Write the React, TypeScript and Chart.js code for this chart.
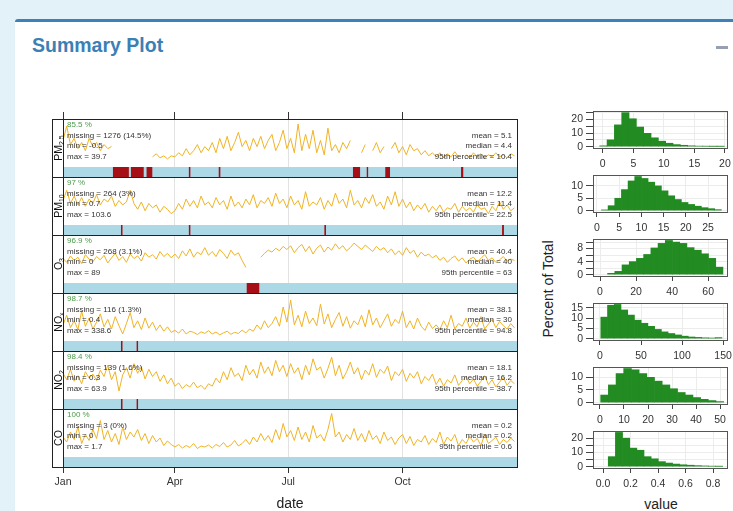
import React, { useEffect, useRef } from "react";
import { Chart, registerables } from "chart.js";

Chart.register(...registerables);

const FONT = "'Liberation Sans', Arial, Helvetica, sans-serif";
Chart.defaults.font.family = FONT;

// ---------------- data ----------------
const sampleStepDays = 3;
const sampleDays = Array.from({ length: 122 }, (_, i) => i * sampleStepDays);
const yearDays = 365;
const monthTickDays = [0, 90, 181, 273];
const monthTickLabels = ["Jan", "Apr", "Jul", "Oct"];

const pollutantNames = [["PM", "2.5"], ["PM", "10"], ["O", "3"], ["NO", "x"], ["NO", "2"], ["CO", ""]];

// daily means, sampled every 3 days (null = missing)
const pm25Daily = [
  11, 18, 9, 12, 7, 10, 6, 12, 8, 10,
  6, 9, 7, 8, null, null, null, null, null, null,
  null, null, null, null, 3, 4.5, 2.5, 3.5, 2, 3.5,
  3, 5, 3.5, 7, 4, 6, 9, 5, 8, 6,
  10, 5, 12, 7, 13, 6, 10, 15, 8, 11,
  6, 12, 8, 13, 7, 11, 14, 6, 10, 16,
  7, 12, 5, 19, 6, 14, 7, 16, 5, 11,
  4, 17, 6, 9, 5, 10, 7, 11, null, null,
  5, 9, null, 6, 10, 5, 8, null, 7, 10,
  5, 8, 4, 9, 6, 7, 4, 6, 3.5, 5,
  3, 5, 2.5, 4.5, 3, 5.5, 3, null, 4, 2.5,
  5, 3, 4.5, 2.5, 4, 3, 5, 3, 4, 2.5, 4.5, 3.5,
];
const pm10Daily = [
  15, 22, 13, 18, 12, 17, 11, 16, 13, 19,
  12, 16, 14, 18, 11, 15, 12, 14, 22, 13,
  9, 14, 8, 13, 10, 12, 7, 11, 9, 6,
  8, 13, 9, 16, 11, 15, 10, 18, 12, 14,
  10, 17, 12, 15, 9, 18, 11, 14, 10, 16,
  12, 19, 10, 15, 13, 17, 11, 20, 13, 16,
  10, 18, 12, 15, 9, 21, 11, 14, 12, 17,
  9, 15, 11, 20, 13, 16, 10, 22, 12, 15,
  10, 17, 13, 19, 11, 14, 9, 18, 12, 21,
  11, 16, 10, 14, 8, 12, 9, 13, 7, 11,
  8, 12, 7, 10, 9, 13, 7, 11, 8, 10,
  7, 12, 9, 10, 6, 11, 8, 14, 9, 12, 8, 10,
];
const o3Daily = [
  36, 30, 40, 33, 38, 28, 42, 35, 31, 39,
  34, 41, 29, 37, 44, 33, 39, 30, 43, 36,
  40, 32, 45, 38, 42, 35, 47, 39, 44, 37,
  43, 36, 48, 40, 51, 38, 46, 42, 53, 41,
  47, 39, 50, 44, 36, 49, 41, 45, 33, 22,
  null, null, null, 38, 44, 49, 46, 52, 48, 55,
  50, 56, 45, 53, 58, 47, 55, 43, 52, 57,
  46, 54, 49, 59, 51, 56, 48, 53, 60, 55,
  50, 57, 52, 47, 55, 49, 53, 45, 51, 42,
  48, 41, 53, 44, 49, 38, 46, 40, 43, 37,
  41, 33, 38, 30, 36, 40, 32, 37, 29, 35,
  38, 31, 36, 42, 33, 37, 30, 34, 39, 32, 35, 33,
];
const noxDaily = [
  45, 80, 35, 60, 28, 95, 40, 70, 30, 55,
  85, 38, 65, 30, 75, 42, 12, 50, 90, 35,
  60, 28, 70, 33, 55, 25, 45, 22, 38, 18,
  25, 15, 30, 12, 22, 18, 10, 20, 14, 24,
  12, 19, 9, 16, 22, 11, 18, 14, 26, 16,
  30, 22, 45, 28, 60, 35, 50, 75, 40, 110,
  55, 135, 45, 80, 38, 95, 50, 70, 42, 120,
  48, 85, 35, 65, 90, 40, 75, 33, 60, 45,
  80, 38, 100, 45, 70, 35, 60, 85, 40, 65,
  50, 95, 35, 60, 30, 70, 40, 25, 55, 32,
  45, 28, 60, 35, 80, 30, 50, 40, 70, 33,
  55, 38, 75, 30, 48, 65, 35, 58, 42, 30, 50, 34,
];
const no2Daily = [
  28, 20, 33, 18, 25, 15, 30, 22, 27, 19,
  32, 24, 38, 20, 30, 6, 26, 35, 22, 40,
  28, 36, 21, 33, 24, 30, 18, 26, 15, 22,
  12, 16, 9, 14, 11, 17, 10, 13, 8, 15,
  12, 22, 16, 30, 20, 35, 24, 28, 19, 38,
  26, 33, 22, 42, 28, 36, 25, 44, 30, 38,
  24, 40, 28, 35, 20, 38, 26, 46, 32, 36,
  22, 34, 48, 25, 38, 21, 30, 42, 27, 35,
  20, 32, 26, 40, 23, 33, 28, 37, 19, 30,
  25, 33, 18, 28, 22, 30, 15, 24, 19, 27,
  14, 22, 12, 20, 16, 26, 13, 19, 24, 15,
  21, 12, 18, 25, 14, 20, 11, 17, 23, 13, 19, 15,
];
const coDaily = [
  0.35, 0.25, 0.45, 0.3, 0.55, 0.22, 0.4, 0.28, 0.5, 0.32,
  0.68, 0.3, 0.48, 0.25, 0.42, 0.2, 0.55, 0.3, 0.45, 0.35,
  0.5, 0.28, 0.42, 0.22, 0.38, 0.25, 0.33, 0.18, 0.27, 0.2,
  0.15, 0.2, 0.13, 0.18, 0.14, 0.22, 0.12, 0.17, 0.15, 0.19,
  0.13, 0.2, 0.16, 0.24, 0.15, 0.19, 0.28, 0.17, 0.22, 0.3,
  0.2, 0.35, 0.25, 0.42, 0.28, 0.38, 0.24, 0.5, 0.3, 0.62,
  0.35, 0.48, 0.28, 0.55, 0.3, 0.45, 0.25, 0.58, 0.33, 0.4,
  0.27, 0.5, 0.82, 0.35, 0.45, 0.25, 0.4, 0.3, 0.52, 0.28,
  0.42, 0.25, 0.48, 0.3, 0.38, 0.22, 0.45, 0.28, 0.35, 0.2,
  0.33, 0.4, 0.22, 0.36, 0.18, 0.3, 0.25, 0.38, 0.2, 0.32,
  0.24, 0.45, 0.2, 0.35, 0.27, 0.4, 0.18, 0.3, 0.22, 0.36,
  0.25, 0.32, 0.18, 0.4, 0.22, 0.28, 0.35, 0.2, 0.3, 0.24, 0.33, 0.26,
];

// missing-data periods (day of year, start/end)
const pm25Missing = [[40, 53], [54.5, 65], [67, 72], [101, 102.6], [125, 126.7], [233, 239], [244, 245.5], [259, 263], [320, 322]];
const pm10Missing = [[46.5, 48], [101, 102.6], [210, 211.5], [353, 354.5]];
const o3Missing = [[147.5, 158]];
const noxMissing = [[46.5, 48], [59, 60.5]];
const no2Missing = [[46.5, 48], [59, 60.5]];
const coMissing: number[][] = [];

const captureText = ["85.5 %", "97 %", "96.9 %", "98.7 %", "98.4 %", "100 %"];
const missingText = ["missing = 1276 (14.5%)", "missing = 264 (3%)", "missing = 268 (3.1%)", "missing = 116 (1.3%)", "missing = 139 (1.6%)", "missing = 3 (0%)"];
const minText = ["min = -0.5", "min = 0.7", "min = 0", "min = 0.4", "min = 0.3", "min = 0"];
const maxText = ["max = 39.7", "max = 103.6", "max = 89", "max = 338.6", "max = 63.9", "max = 1.7"];
const meanText = ["mean = 5.1", "mean = 12.2", "mean = 40.4", "mean = 38.1", "mean = 18.1", "mean = 0.2"];
const medianText = ["median = 4.4", "median = 11.4", "median = 40", "median = 30", "median = 16.2", "median = 0.2"];
const p95Text = ["95th percentile = 10.4", "95th percentile = 22.5", "95th percentile = 63", "95th percentile = 94.8", "95th percentile = 38.7", "95th percentile = 0.6"];

// histogram bins (centres) and percent of total
const pm25Bins = [0.1, 1.3, 2.5, 3.7, 4.9, 6.1, 7.3, 8.5, 9.7, 10.9, 12.1, 13.3, 14.5, 15.7, 16.9, 18.1, 19.3];
const pm25Pct = [0.6, 5, 16, 25, 20.5, 14.4, 9.8, 6.5, 4, 2.5, 1.5, 1, 0.6, 0.4, 0.3, 0.2, 0.2];
const pm10Bins = [1.75, 3.25, 4.75, 6.25, 7.75, 9.25, 10.75, 12.25, 13.75, 15.25, 16.75, 18.25, 19.75, 21.25, 22.75, 24.25, 25.75, 27.25];
const pm10Pct = [0.3, 2, 5, 8.5, 12, 13.8, 13, 11.5, 10, 8, 6, 4.5, 3.3, 2.5, 1.8, 1.2, 0.8, 0.4];
const o3Bins = [6.2, 10.2, 14.2, 18.2, 22.2, 26.2, 30.2, 34.2, 38.2, 42.2, 46.2, 50.2, 54.2, 58.2, 62.2, 66.2];
const o3Pct = [0.4, 1, 3, 4, 5, 6.2, 8.2, 9.6, 10.5, 10, 9.6, 8.3, 7.5, 6.4, 5, 2.3];
const noxBins = [5.1, 13.3, 21.5, 29.7, 37.9, 46.1, 54.3, 62.5, 70.7, 78.9, 87.1, 95.3, 103.5, 111.7, 119.9, 128.1, 136.3, 144.5];
const noxPct = [10.5, 16.3, 16.7, 14, 11.5, 9, 7.5, 6, 4.5, 3.3, 2.5, 1.8, 1.2, 0.8, 0.6, 0.4, 0.3, 0.5];
const no2Bins = [1.9, 5.1, 8.3, 11.5, 14.7, 17.9, 21.1, 24.3, 27.5, 30.7, 33.9, 37.1, 40.3, 43.5, 46.7, 49.9];
const no2Pct = [3, 7, 11.5, 13.5, 13, 11.5, 10, 8.5, 7, 5.5, 4, 3, 2, 1.3, 0.8, 0.4];
const coBins = [0.064, 0.116, 0.168, 0.22, 0.272, 0.324, 0.376, 0.428, 0.48, 0.532, 0.584, 0.636, 0.688, 0.74, 0.792, 0.844];
const coPct = [7, 24, 20, 13, 11.5, 7, 5.5, 3.5, 2.5, 1.8, 1.3, 1, 0.7, 0.5, 0.3, 0.2];

// histogram axis ticks
const pm25XTicks = [0, 5, 10, 15, 20];
const pm10XTicks = [0, 5, 10, 15, 20, 25];
const o3XTicks = [0, 20, 40, 60];
const noxXTicks = [0, 50, 100, 150];
const no2XTicks = [0, 10, 20, 30, 40, 50];
const coXTicks = [0, 0.2, 0.4, 0.6, 0.8];
const pm25YTicks = [0, 5, 10, 15, 20, 25];
const pm10YTicks = [0, 5, 10];
const o3YTicks = [0, 2, 4, 6, 8, 10];
const noxYTicks = [0, 5, 10, 15];
const no2YTicks = [0, 5, 10];
const coYTicks = [0, 5, 10, 15, 20];
const pm25YLabels = [0, 10, 20];
const pm10YLabels = [0, 5, 10];
const o3YLabels = [0, 4, 8];
const noxYLabels = [0, 5, 10, 15];
const no2YLabels = [0, 5, 10];
const coYLabels = [0, 10, 20];

// ---------------- layout / style ----------------
const seriesValues = [pm25Daily, pm10Daily, o3Daily, noxDaily, no2Daily, coDaily];
const missingSpans = [pm25Missing, pm10Missing, o3Missing, noxMissing, no2Missing, coMissing];
// axis span: value near panel top / near top of data strip
const panelSpan = [[0, 20], [1, 29], [4, 68], [1, 150], [1, 52], [0.03, 0.85]];

const hist = [
  { bins: pm25Bins, pct: pm25Pct, xTicks: pm25XTicks, xr: [-1.6, 20.5], yTicks: pm25YTicks, yLabels: pm25YLabels, yr: [-1, 26.2] },
  { bins: pm10Bins, pct: pm10Pct, xTicks: pm10XTicks, xr: [-0.9, 29.5], yTicks: pm10YTicks, yLabels: pm10YLabels, yr: [-0.55, 14.4] },
  { bins: o3Bins, pct: o3Pct, xTicks: o3XTicks, xr: [-3.9, 71], yTicks: o3YTicks, yLabels: o3YLabels, yr: [-0.42, 10.95] },
  { bins: noxBins, pct: noxPct, xTicks: noxXTicks, xr: [-8.5, 156], yTicks: noxYTicks, yLabels: noxYLabels, yr: [-0.67, 17.4] },
  { bins: no2Bins, pct: no2Pct, xTicks: no2XTicks, xr: [-2.9, 53.3], yTicks: no2YTicks, yLabels: no2YLabels, yr: [-0.55, 14.1] },
  { bins: coBins, pct: coPct, xTicks: coXTicks, xr: [-0.073, 0.909], yTicks: coYTicks, yLabels: coYLabels, yr: [-0.96, 25] },
];

const LINE = "#F0B324";
const STRIP = "#ADD8E6";
const MISS = "#A50F15";
const GREEN = "#228B22";

const PANEL_TOP = 119;
const PANEL_H = 58;
const PLOT_L = 63;
const PLOT_R = 517;
const FRAME_L = 52;
const HIST_TOP0 = 111;
const HIST_STEP = 64;
const HIST_H = 37;
const HIST_L = 593;
const HIST_R = 728;

function SeriesPanel({ idx }: { idx: number }) {
  const ref = useRef<HTMLCanvasElement>(null);
  const top = PANEL_TOP + idx * PANEL_H + 1;
  const w = PLOT_R - PLOT_L;
  const h = PANEL_H - 1;
  useEffect(() => {
    const [lo, hi] = panelSpan[idx];
    const ppu = 41 / (hi - lo);
    const yMax = hi + 2 / ppu;
    const yMin = lo - 14 / ppu;
    const stripTop = yMin + 10 / ppu;
    const values = seriesValues[idx];
    const datasets: any[] = [
      {
        data: sampleDays.map((d, i) => ({ x: d, y: values[i] })),
        borderColor: LINE,
        borderWidth: 1,
        pointRadius: 0,
        spanGaps: false,
        fill: false,
        order: 0,
      },
      ...missingSpans[idx].map(([a, b]) => ({
        data: [{ x: a, y: stripTop }, { x: b, y: stripTop }],
        borderWidth: 0,
        borderColor: "rgba(0,0,0,0)",
        backgroundColor: MISS,
        fill: "start",
        pointRadius: 0,
        order: 1,
      })),
      {
        data: [{ x: 0, y: stripTop }, { x: yearDays, y: stripTop }],
        borderWidth: 0,
        borderColor: "rgba(0,0,0,0)",
        backgroundColor: STRIP,
        fill: "start",
        pointRadius: 0,
        order: 2,
      },
    ];
    const chart = new Chart(ref.current!, {
      type: "line",
      data: { datasets },
      options: {
        responsive: false,
        maintainAspectRatio: false,
        animation: false,
        events: [],
        layout: { padding: 0 },
        plugins: { legend: { display: false }, tooltip: { enabled: false } },
        scales: {
          x: { type: "linear", min: 0, max: yearDays, display: false },
          y: { type: "linear", min: yMin, max: yMax, display: false },
        },
      } as any,
    });
    return () => chart.destroy();
  }, [idx]);
  return (
    <canvas
      ref={ref}
      width={w}
      height={h}
      style={{ position: "absolute", left: PLOT_L, top, width: w, height: h, zIndex: 2 }}
    />
  );
}

function TimeAxis() {
  const ref = useRef<HTMLCanvasElement>(null);
  const left = 40, top = 100, w = 490, h = 411;
  useEffect(() => {
    const setTicks = (s: any) => {
      s.ticks = monthTickDays.map((v) => ({ value: v }));
    };
    const chart = new Chart(ref.current!, {
      type: "line",
      data: { datasets: [{ data: [] }] },
      options: {
        responsive: false,
        maintainAspectRatio: false,
        animation: false,
        events: [],
        layout: { padding: { left: PLOT_L - left, right: left + w - PLOT_R, top: 0, bottom: 0 } },
        plugins: { legend: { display: false }, tooltip: { enabled: false } },
        scales: {
          x: {
            type: "linear",
            position: "bottom",
            min: 0,
            max: yearDays,
            afterBuildTicks: setTicks,
            ticks: {
              autoSkip: false,
              maxRotation: 0,
              padding: 3,
              color: "#333",
              font: { size: 10.5 },
              callback: (_v: any, i: number) => monthTickLabels[i],
            },
            grid: { color: "#e2e2e2", lineWidth: 1, tickColor: "#333", tickLength: 6, drawTicks: true },
            border: { display: false },
            title: { display: true, text: "date", color: "#222", font: { size: 14, lineHeight: 1 }, padding: { top: 0, bottom: 0 } },
            afterFit: (s: any) => {
              s.height = 511 - 467;
              s.paddingLeft = 0;
              s.paddingRight = 0;
            },
          },
          x2: {
            type: "linear",
            position: "top",
            min: 0,
            max: yearDays,
            afterBuildTicks: setTicks,
            ticks: { display: false },
            grid: { drawOnChartArea: false, tickColor: "#333", tickLength: 7, drawTicks: true },
            border: { display: false },
            afterFit: (s: any) => {
              s.height = PANEL_TOP - top;
              s.paddingLeft = 0;
              s.paddingRight = 0;
            },
          },
          y: { display: false, min: 0, max: 1 },
        },
      } as any,
    });
    return () => chart.destroy();
  }, []);
  return (
    <canvas ref={ref} width={w} height={h} style={{ position: "absolute", left, top, width: w, height: h, zIndex: 1 }} />
  );
}

function Histogram({ idx }: { idx: number }) {
  const ref = useRef<HTMLCanvasElement>(null);
  const cfg = hist[idx];
  const left = 555;
  const frameTop = HIST_TOP0 + idx * HIST_STEP;
  const top = frameTop - 2;
  const w = 733 - left;
  const h = 2 + HIST_H + 22;
  useEffect(() => {
    const chart = new Chart(ref.current!, {
      type: "bar",
      data: {
        datasets: [
          {
            data: cfg.bins.map((b, i) => ({ x: b, y: cfg.pct[i] })),
            backgroundColor: GREEN,
            borderWidth: 0,
            barPercentage: 1,
            categoryPercentage: 1,
          },
        ],
      },
      options: {
        responsive: false,
        maintainAspectRatio: false,
        animation: false,
        events: [],
        layout: { padding: { top: 2, right: left + w - HIST_R, left: 0, bottom: 0 } },
        plugins: { legend: { display: false }, tooltip: { enabled: false } },
        scales: {
          x: {
            type: "linear",
            min: cfg.xr[0],
            max: cfg.xr[1],
            offset: false,
            afterBuildTicks: (s: any) => {
              s.ticks = cfg.xTicks.map((v) => ({ value: v }));
            },
            ticks: {
              autoSkip: false,
              maxRotation: 0,
              padding: 5,
              color: "#333",
              font: { size: 10.5 },
              callback: (v: any) => (idx === 5 ? Number(v).toFixed(1) : String(v)),
            },
            grid: { offset: false, color: "#ececec", tickColor: "#444", tickLength: 5 },
            border: { display: false },
            afterFit: (s: any) => {
              s.height = 22;
              s.paddingLeft = 0;
              s.paddingRight = 0;
            },
          },
          y: {
            type: "linear",
            min: cfg.yr[0],
            max: cfg.yr[1],
            afterBuildTicks: (s: any) => {
              s.ticks = cfg.yTicks.map((v) => ({ value: v }));
            },
            ticks: {
              autoSkip: false,
              padding: 3,
              color: "#333",
              font: { size: 10.5 },
              callback: (v: any) => (cfg.yLabels.includes(Number(v)) ? String(v) : ""),
            },
            grid: { color: "#ececec", tickColor: "#444", tickLength: 7 },
            border: { display: false },
            afterFit: (s: any) => {
              s.width = HIST_L - left;
              s.paddingTop = 0;
              s.paddingBottom = 0;
            },
          },
        },
      } as any,
    });
    return () => chart.destroy();
  }, [idx]);
  return (
    <>
      <canvas ref={ref} width={w} height={h} style={{ position: "absolute", left, top, width: w, height: h, zIndex: 2 }} />
      <div
        style={{
          position: "absolute",
          left: HIST_L,
          top: frameTop,
          width: HIST_R - HIST_L,
          height: HIST_H + 1,
          border: "1px solid #555",
          boxSizing: "border-box",
          zIndex: 3,
          pointerEvents: "none",
        }}
      />
    </>
  );
}

const txt: React.CSSProperties = {
  position: "absolute",
  fontFamily: FONT,
  fontSize: 8,
  lineHeight: "10px",
  whiteSpace: "nowrap",
  color: "#333",
  zIndex: 3,
};

function PanelTexts({ idx }: { idx: number }) {
  const T = PANEL_TOP + idx * PANEL_H;
  const rows = [6, 16.5, 27, 37.5];
  const leftX = 67;
  const rightX = 512;
  const [base, sub] = pollutantNames[idx];
  return (
    <>
      <div style={{ ...txt, left: leftX, top: T + rows[0] - 5, color: "#4c9a4c" }}>{captureText[idx]}</div>
      <div style={{ ...txt, left: leftX, top: T + rows[1] - 5 }}>{missingText[idx]}</div>
      <div style={{ ...txt, left: leftX, top: T + rows[2] - 5 }}>{minText[idx]}</div>
      <div style={{ ...txt, left: leftX, top: T + rows[3] - 5 }}>{maxText[idx]}</div>
      <div style={{ ...txt, left: rightX - 200, width: 200, textAlign: "right", top: T + rows[1] - 5 }}>{meanText[idx]}</div>
      <div style={{ ...txt, left: rightX - 200, width: 200, textAlign: "right", top: T + rows[2] - 5 }}>{medianText[idx]}</div>
      <div style={{ ...txt, left: rightX - 200, width: 200, textAlign: "right", top: T + rows[3] - 5 }}>{p95Text[idx]}</div>
      <div
        style={{
          position: "absolute",
          left: (FRAME_L + PLOT_L) / 2 + 0.5 - 29,
          top: T + 29 - 7,
          width: 58,
          height: 14,
          lineHeight: "14px",
          textAlign: "center",
          transform: "rotate(-90deg)",
          fontFamily: FONT,
          fontSize: 10.5,
          color: "#111",
          whiteSpace: "nowrap",
          zIndex: 5,
        }}
      >
        {base}
        {sub ? <span style={{ fontSize: 7, verticalAlign: "-2px", lineHeight: 0 }}>{sub}</span> : null}
      </div>
    </>
  );
}

function Frame() {
  const lines = [];
  for (let i = 1; i < 6; i++) {
    lines.push(
      <div
        key={i}
        style={{ position: "absolute", left: FRAME_L, top: PANEL_TOP + i * PANEL_H, width: PLOT_R - FRAME_L + 1, height: 1, background: "#222", zIndex: 4 }}
      />
    );
  }
  return (
    <>
      <div
        style={{
          position: "absolute",
          left: FRAME_L,
          top: PANEL_TOP,
          width: PLOT_R - FRAME_L + 1,
          height: 6 * PANEL_H + 1,
          border: "1px solid #222",
          boxSizing: "border-box",
          zIndex: 4,
          pointerEvents: "none",
        }}
      />
      <div style={{ position: "absolute", left: PLOT_L, top: PANEL_TOP, width: 1, height: 6 * PANEL_H, background: "#222", zIndex: 4 }} />
      {lines}
    </>
  );
}

export default function App() {
  return (
    <div
      style={{
        position: "fixed",
        left: 0,
        top: 0,
        width: 733,
        height: 511,
        overflow: "hidden",
        background: "#e3f1f9",
        fontFamily: FONT,
      }}
    >
      <div
        style={{
          position: "absolute",
          left: 15,
          top: 19,
          width: 740,
          height: 520,
          background: "#fff",
          borderTop: "3px solid #3c82b9",
          borderRadius: 3,
          boxShadow: "0 1px 1px rgba(0,0,0,0.1)",
        }}
      />
      <div
        style={{
          position: "absolute",
          left: 32,
          top: 33,
          fontSize: 19.5,
          lineHeight: "24px",
          fontWeight: 700,
          color: "#3c7fb5",
          whiteSpace: "nowrap",
        }}
      >
        Summary Plot
      </div>
      <div style={{ position: "absolute", left: 716, top: 46, width: 12, height: 3, background: "#97a0b3" }} />

      <TimeAxis />
      {[0, 1, 2, 3, 4, 5].map((i) => (
        <SeriesPanel key={"p" + i} idx={i} />
      ))}
      {[0, 1, 2, 3, 4, 5].map((i) => (
        <PanelTexts key={"t" + i} idx={i} />
      ))}
      <Frame />

      {[0, 1, 2, 3, 4, 5].map((i) => (
        <Histogram key={"h" + i} idx={i} />
      ))}
      <div
        style={{
          position: "absolute",
          left: 548 - 60,
          top: 289 - 9,
          width: 120,
          height: 18,
          lineHeight: "18px",
          textAlign: "center",
          transform: "rotate(-90deg)",
          fontSize: 14,
          color: "#222",
          whiteSpace: "nowrap",
        }}
      >
        Percent of Total
      </div>
      <div
        style={{
          position: "absolute",
          left: 661 - 40,
          top: 504 - 9,
          width: 80,
          height: 18,
          lineHeight: "18px",
          textAlign: "center",
          fontSize: 14,
          color: "#222",
        }}
      >
        value
      </div>
    </div>
  );
}
